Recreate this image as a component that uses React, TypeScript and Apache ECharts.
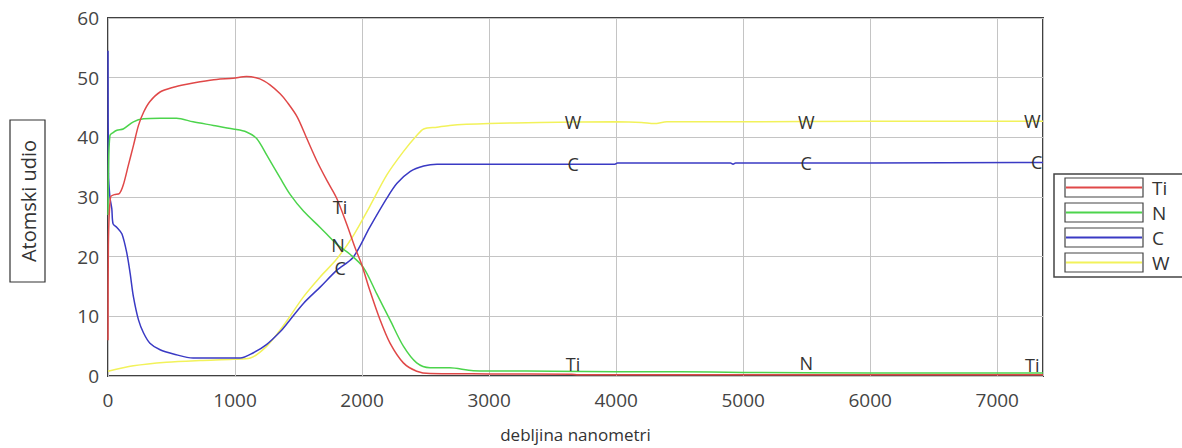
import React, { useEffect, useRef } from "react";
import * as echarts from "echarts";

type P = [number, number];

const seriesNames = ["Ti", "N", "C", "W"];
const seriesColors = ["#e04848", "#4cd44c", "#3a3ac4", "#f2f25a"];

const tiData: P[] = [
  [0, 6], [3, 22], [20, 30], [50, 30.4], [90, 30.6], [120, 32], [160, 35.3], [200, 38.6],
  [240, 42], [280, 44.2], [330, 46], [410, 47.6], [515, 48.4], [620, 48.9], [725, 49.3],
  [855, 49.7], [985, 49.9], [1090, 50.2], [1195, 49.8], [1275, 48.8], [1355, 47.3],
  [1410, 45.9], [1490, 43.4], [1565, 39.8], [1645, 36], [1725, 32.7], [1800, 29.8],
  [1880, 25.4], [1945, 21.5], [1995, 18.8], [2060, 14.4], [2140, 9.5], [2220, 5.5],
  [2325, 2.2], [2430, 0.8], [2535, 0.4], [3000, 0.35], [3650, 0.3], [3700, 0.2],
  [5000, 0.2], [6000, 0.2], [7360, 0.2],
];

const nData: P[] = [
  [0, 27], [3, 34], [15, 40.3], [40, 40.8], [70, 41.2], [120, 41.4], [200, 42.6],
  [280, 43.1], [410, 43.2], [540, 43.2], [670, 42.6], [830, 42], [985, 41.4],
  [1090, 40.9], [1170, 39.8], [1250, 37], [1355, 33.2], [1435, 30.4], [1540, 27.6],
  [1670, 24.9], [1800, 22.1], [1905, 20.4], [2010, 18.2], [2115, 13.8], [2220, 9.4],
  [2325, 5], [2430, 2.2], [2535, 1.4], [2690, 1.4], [2875, 0.9], [3500, 0.8],
  [4000, 0.7], [4500, 0.7], [5000, 0.6], [6000, 0.5], [7360, 0.5],
];

const cData: P[] = [
  [0, 54.5], [4, 34], [15, 30], [30, 28], [40, 25.5], [70, 24.9], [110, 23.8],
  [150, 20.4], [175, 17.1], [200, 13.3], [240, 9.4], [280, 7.2], [330, 5.5],
  [410, 4.4], [515, 3.7], [670, 3.0], [830, 3.0], [1040, 3.0], [1145, 3.9],
  [1250, 5.3], [1355, 7.4], [1410, 8.8], [1540, 12.2], [1670, 14.9], [1800, 17.7],
  [1930, 19.9], [2060, 24.9], [2195, 29.8], [2275, 32.3], [2380, 34.3], [2485, 35.2],
  [2590, 35.5], [3000, 35.5], [3990, 35.5], [4010, 35.7], [4900, 35.7], [4920, 35.5],
  [4940, 35.7], [6000, 35.7], [7360, 35.8],
];

const wData: P[] = [
  [0, 0.8], [200, 1.7], [460, 2.3], [725, 2.6], [985, 2.8], [1120, 3.0], [1250, 5.0],
  [1355, 7.7], [1410, 9.3], [1540, 13.3], [1670, 16.6], [1800, 19.6], [1930, 23.5],
  [2060, 28.4], [2195, 33.7], [2325, 37.6], [2430, 40.3], [2485, 41.4], [2590, 41.7],
  [2690, 42], [3000, 42.3], [3400, 42.5], [4000, 42.6], [4200, 42.5], [4300, 42.3],
  [4400, 42.6], [5000, 42.6], [6000, 42.7], [7360, 42.7],
];

// x positions of the inline curve labels
const tiLabelX = [1827, 3661, 7276];
const nLabelX = [1811, 5496];
const cLabelX = [1827, 3661, 5496, 7310];
const wLabelX = [3661, 5496, 7276];

const xMin = 0;
const xMax = 7360;
const xInterval = 1000;
const yMin = 0;
const yMax = 60;
const yInterval = 10;

const xAxisName = "debljina nanometri";
const yAxisName = "Atomski udio";

const FONT = "'Open Sans', 'DejaVu Sans', sans-serif";

function interp(data: P[], x: number): number {
  for (let i = 1; i < data.length; i++) {
    if (data[i][0] >= x) {
      const [x0, y0] = data[i - 1];
      const [x1, y1] = data[i];
      return y0 + ((y1 - y0) * (x - x0)) / (x1 - x0 || 1);
    }
  }
  return data[data.length - 1][1];
}

export default function App() {
  const ref = useRef<HTMLDivElement>(null);

  useEffect(() => {
    if (!ref.current) return;
    const chart = echarts.init(ref.current, undefined, { renderer: "svg" });

    const datas = [tiData, nData, cData, wData];
    const labelXs = [tiLabelX, nLabelX, cLabelX, wLabelX];

    const makeSeries = (idx: number) => ({
      name: seriesNames[idx],
      type: "line",
      data: datas[idx],
      showSymbol: false,
      symbol: "none",
      smooth: 0.3,
      lineStyle: { color: seriesColors[idx], width: 1.5 },
      itemStyle: { color: seriesColors[idx] },
      clip: true,
      markPoint: {
        symbol: "circle",
        symbolSize: 1,
        itemStyle: { color: "rgba(0,0,0,0)" },
        silent: true,
        data: labelXs[idx].map((x) => {
          const y = interp(datas[idx], x);
          return {
            coord: [x, y],
            label: {
              show: true,
              position: "inside",
              formatter: seriesNames[idx],
              color: "#333",
              fontSize: 18,
              fontFamily: FONT,
              offset: y < 3 ? [0, -10] : [0, 0],
            },
          };
        }),
      },
    });

    // draw order: W, C, N, Ti (Ti on top)
    const series = [3, 2, 1, 0].map(makeSeries);

    const legendX = 1054;
    const legendY = 174;
    const legendChildren: any[] = [
      {
        type: "rect",
        shape: { x: legendX, y: legendY, width: 140, height: 103 },
        style: { fill: "#fff", stroke: "#444", lineWidth: 1.5 },
      },
    ];
    seriesNames.forEach((name, i) => {
      const y = legendY + 4 + i * 25;
      legendChildren.push({
        type: "rect",
        shape: { x: 1065, y, width: 78, height: 19 },
        style: { fill: "#fff", stroke: "#444", lineWidth: 1.2 },
      });
      legendChildren.push({
        type: "line",
        shape: { x1: 1066, y1: y + 9.5, x2: 1142, y2: y + 9.5 },
        style: { stroke: seriesColors[i], lineWidth: 2 },
      });
      legendChildren.push({
        type: "text",
        x: 1152,
        y: y + 9.5,
        style: {
          text: name,
          fill: "#333",
          font: `19px ${FONT}`,
          textVerticalAlign: "middle",
          verticalAlign: "middle",
        },
      });
    });

    chart.setOption({
      animation: false,
      backgroundColor: "#fff",
      grid: {
        left: 108,
        top: 18,
        width: 935,
        height: 363,
        show: true,
        borderColor: "#404040",
        borderWidth: 2,
        backgroundColor: "transparent",
      },
      xAxis: {
        type: "value",
        min: xMin,
        max: xMax,
        interval: xInterval,
        name: xAxisName,
        nameLocation: "middle",
        nameGap: 50,
        nameTextStyle: { fontSize: 17, color: "#333", fontFamily: FONT },
        axisLine: { show: false },
        axisTick: { show: false },
        axisLabel: {
          showMaxLabel: false,
          fontSize: 19,
          color: "#444",
          fontFamily: FONT,
          margin: 14,
          formatter: (v: number) => String(v),
        },
        splitLine: { show: true, lineStyle: { color: "#c4c4c4", width: 1 } },
      },
      yAxis: {
        type: "value",
        min: yMin,
        max: yMax,
        interval: yInterval,
        axisLine: { show: false },
        axisTick: { show: false },
        axisLabel: {
          fontSize: 19,
          color: "#444",
          fontFamily: FONT,
          margin: 9,
          formatter: (v: number) => String(v),
        },
        splitLine: { show: true, lineStyle: { color: "#c4c4c4", width: 1 } },
      },
      graphic: [
        {
          type: "rect",
          shape: { x: 10, y: 120, width: 35, height: 162 },
          style: { fill: "#fff", stroke: "#333", lineWidth: 1.2 },
        },
        {
          type: "text",
          x: 28,
          y: 201,
          rotation: Math.PI / 2,
          style: {
            text: yAxisName,
            fill: "#333",
            font: `20px ${FONT}`,
            align: "center",
            verticalAlign: "middle",
            textAlign: "center",
            textVerticalAlign: "middle",
          },
        },
        ...legendChildren,
      ],
      series,
    });

    return () => chart.dispose();
  }, []);

  return (
    <div
      ref={ref}
      style={{ position: "fixed", left: 0, top: 0, width: 1182, height: 448, background: "#fff" }}
    />
  );
}
